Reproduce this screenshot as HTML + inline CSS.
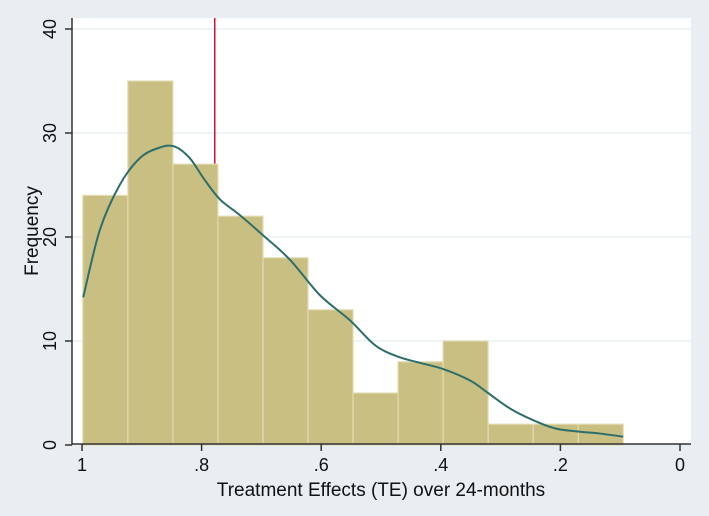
<!DOCTYPE html>
<html><head><meta charset="utf-8"><style>
body{margin:0;background:#e8eef2;font-family:"Liberation Sans",sans-serif}
svg{display:block}
</style></head><body>
<svg width="709" height="516">
<rect x="0" y="0" width="709" height="516" fill="#e8eef2"/>
<rect x="72" y="18" width="619" height="426" fill="#ffffff"/>
<g id="grid"></g><g id="refline"></g><g id="bars"></g><g id="curve"></g><g id="axes"></g>
<text x="381" y="496" text-anchor="middle" font-size="19" fill="#111">Treatment Effects (TE) over 24-months</text>
<text transform="translate(38,231) rotate(-90)" text-anchor="middle" font-size="19" fill="#111">Frequency</text>
</svg>
<script>
const binStart = 0.095;
const binWidth = 0.0753;
const counts = [2,2,2,10,8,5,13,18,22,27,35,24];
const densityX = [0.998,0.97,0.937,0.903,0.87,0.845,0.82,0.795,0.769,0.736,0.698,0.652,0.602,0.552,0.510,0.472,0.435,0.396,0.351,0.321,0.284,0.246,0.209,0.171,0.134,0.095];
const densityY = [14.2,20.7,25.0,27.6,28.6,28.7,27.6,25.5,23.6,22.1,20.2,17.8,14.4,12.0,9.6,8.5,7.9,7.3,6.2,5.0,3.5,2.4,1.6,1.3,1.1,0.8];
const yTicks = [0,10,20,30,40];
const xTicks = [1,0.8,0.6,0.4,0.2,0];
const xTickLabels = ["1",".8",".6",".4",".2","0"];
const refValue = 0.778;
const NS="http://www.w3.org/2000/svg";
const X=v=>680-v*598, Y=v=>445-v*10.4;
function mk(p,t,a){const e=document.createElementNS(NS,t);for(const k in a)e.setAttribute(k,a[k]);p.appendChild(e);return e;}
const grid=document.getElementById('grid');
yTicks.forEach(t=>{if(t===0)return;const l=mk(grid,'line',{x1:72,x2:691,y1:Y(t),y2:Y(t),stroke:'#eaf0f3','stroke-width':1.5});

});
const rl=mk(document.getElementById('refline'),'line',{x1:X(refValue),x2:X(refValue),y1:18,y2:444,stroke:'#d0103a','stroke-width':1.5});


const bars=document.getElementById('bars');
counts.forEach((c,i)=>{const a=X(binStart+i*binWidth),b=X(binStart+(i+1)*binWidth);
const r=mk(bars,'rect',{x:b,y:Y(c),width:a-b,height:Y(0)-Y(c),fill:'#c9bf82',stroke:'#e2dbb0','stroke-width':1.2});

});
const pts=densityX.map((x,i)=>[X(x),Y(densityY[i])]);
let d='M'+pts[0][0]+','+pts[0][1];
for(let i=0;i<pts.length-1;i++){const p0=pts[Math.max(0,i-1)],p1=pts[i],p2=pts[i+1],p3=pts[Math.min(pts.length-1,i+2)];
d+=` C${p1[0]+(p2[0]-p0[0])/6},${p1[1]+(p2[1]-p0[1])/6} ${p2[0]-(p3[0]-p1[0])/6},${p2[1]-(p3[1]-p1[1])/6} ${p2[0]},${p2[1]}`;}
const p=mk(document.getElementById('curve'),'path',{d:d,fill:'none',stroke:'#2e6e6a','stroke-width':2});


const ax=document.getElementById('axes');
const la=mk(ax,'line',{x1:72,x2:72,y1:18,y2:445,stroke:'#333','stroke-width':1.5});


const ba=mk(ax,'line',{x1:72,x2:691,y1:444,y2:444,stroke:'#333','stroke-width':1.5});


yTicks.forEach(t=>{mk(ax,'line',{x1:65,x2:72,y1:Y(t),y2:Y(t),stroke:'#333','stroke-width':1.5});
const tx=mk(ax,'text',{transform:`translate(56,${Y(t)}) rotate(-90)`,'text-anchor':'middle','font-size':18,fill:'#111'});tx.textContent=t;

});
xTicks.forEach((t,i)=>{mk(ax,'line',{x1:X(t),x2:X(t),y1:444,y2:451,stroke:'#333','stroke-width':1.5});
const tx=mk(ax,'text',{x:X(t),y:471,'text-anchor':'middle','font-size':18,fill:'#111'});tx.textContent=xTickLabels[i];

});
</script>
</body></html>
